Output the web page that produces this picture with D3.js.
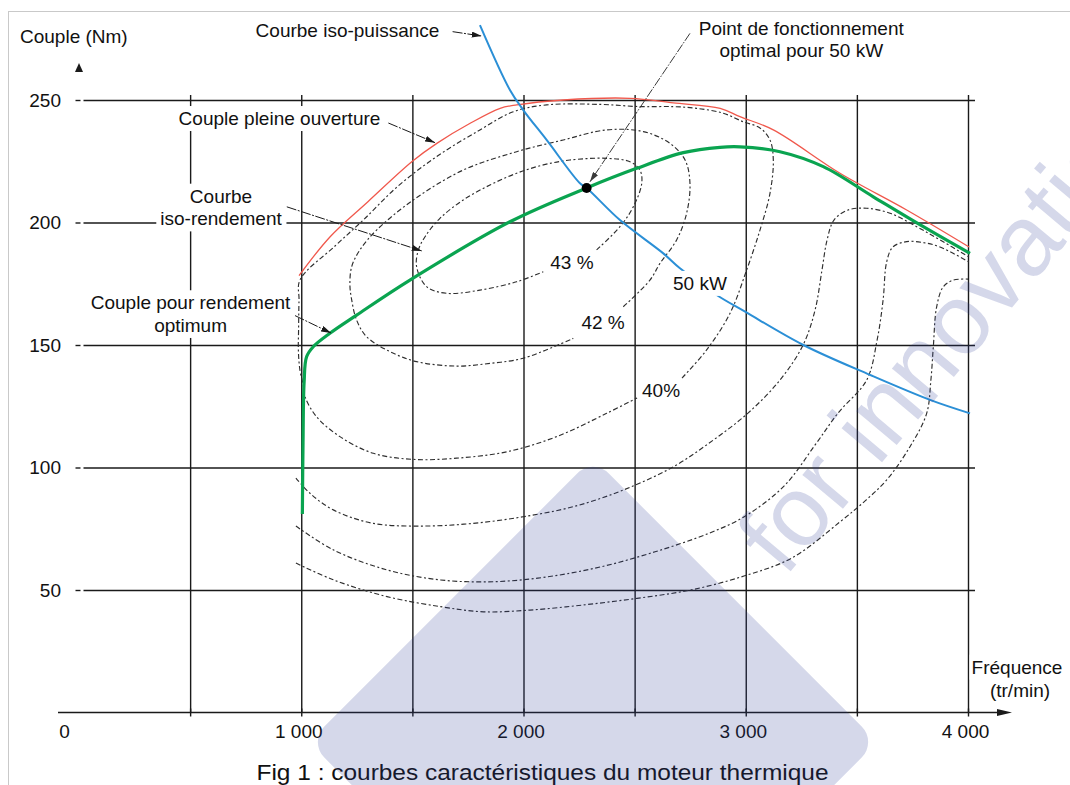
<!DOCTYPE html>
<html>
<head>
<meta charset="utf-8">
<script src="https://cdn.jsdelivr.net/npm/d3@7"></script>
<style>
  html, body { margin: 0; padding: 0; background: #fff; }
  svg { display: block; font-family: "Liberation Sans", Arial, Helvetica, sans-serif; }
</style>
</head>
<body>
<svg id="chart" width="1070" height="785"></svg>
<script>
// ---- axes ---------------------------------------------------------------
const xGridTicks = [500, 1000, 1500, 2000, 2500, 3000, 3500, 4000];
const xLabelTicks = [0, 1000, 2000, 3000, 4000];
const xLabelText = ["0", "1 000", "2 000", "3 000", "4 000"];
const yTicks = [50, 100, 150, 200, 250];
const yLabelText = ["50", "100", "150", "200", "250"];

// ---- characteristic curves: [speed (tr/min), torque (Nm)] ---------------
const fullLoadTorque = [[990,178.3],[1130,194.2],[1300,208.5],[1500,225],[1610,232.3],[1760,240.5],[1895,246.6],[1970,248],[2180,250],[2480,250.7],[2674,248.8],[2885,246.6],[2974,243.2],[3124,237.8],[3424,220.1],[3724,205.1],[4005,190]];
const optimumTorque = [[1005,81],[1008,110],[1013,135],[1024,145.2],[1054,149.3],[1129,154.8],[1249,162.2],[1489,176.5],[1939,200.3],[2284,214.1],[2509,222.1],[2719,228.5],[2884,230.7],[2974,230.9],[3154,228.9],[3349,222.8],[3574,210.5],[3799,198.3],[4009,187.4]];
const isoPower50kW = [[1804,280.6],[1939,254.1],[1999,245.9],[2104,233.7],[2254,216],[2284,214.1],[2434,201],[2629,187.4],[2704,181.3],[2869,170.4],[2997,163.6],[3259,150],[3559,137.8],[3829,127.6],[4009,122.1]];
const optimumPoint = [2284, 214.1];

// ---- iso-efficiency contours --------------------------------------------
const iso43 = [[2329,188.8],[2434,198.3],[2494,206.4],[2532,216.0],[2524,221.4],[2479,224.8],[2374,226.2],[2209,225.5],[2089,223.5],[1969,220.1],[1849,215.3],[1729,209.2],[1624,201.7],[1557,194.2],[1527,188.8],[1519,182.0],[1564,173.8],[1654,171.1],[1804,172.4],[1969,175.8],[2089,179.9]];
const iso42 = [[2449,165.6],[2569,176.5],[2614,183.3],[2689,192.9],[2734,203.8],[2749,216.0],[2727,225.5],[2659,232.3],[2539,237.1],[2374,237.8],[2179,233.7],[1969,228.9],[1729,221.4],[1504,209.2],[1339,196.9],[1264,188.8],[1227,182.0],[1219,174.5],[1227,168.4],[1249,160.2],[1294,153.4],[1399,147.3],[1519,143.2],[1699,141.4],[1849,142.5],[1999,144.6],[2224,152.7]];
const iso40 = [[2713,136.5],[2824,148.0],[2929,162.9],[3004,180.6],[3064,196.9],[3109,211.9],[3124,225.5],[3109,233.7],[3064,238.6],[2989,241.1],[2899,244.6],[2779,246.6],[2674,247.3],[2524,247.3],[2344,248.2],[2104,248.0],[1954,245.2],[1804,237.8],[1609,226.9],[1431,214.5],[1279,201.0],[1152,190.4],[994,176.5],[990,168.4],[988,156.1],[987,148.0],[994,139.8],[1009,133.7],[1017,128.9],[1069,120.7],[1174,112.6],[1324,105.8],[1504,103.3],[1699,103.8],[1924,106.4],[2149,112.6],[2374,122.1],[2511,128.4]];
const isoOuter1 = [[976,95.7],[1039,89.5],[1144,82.7],[1324,77.2],[1549,76.1],[1774,77.2],[1999,79.9],[2224,84.0],[2449,90.8],[2674,100.3],[2854,111.2],[3010,122.2],[3154,135.7],[3258,150.0],[3312,164.3],[3343,180.6],[3366,192.9],[3397,201.0],[3460,205.1],[3544,205.8],[3649,203.8],[3769,198.3],[3874,192.9],[4004,185.9]];
const isoOuter2 = [[976,76.1],[1146,66.3],[1386,58.2],[1627,54.1],[1869,53.4],[2110,55.4],[2350,59.5],[2592,65.6],[2833,73.1],[2993,79.9],[3172,92.4],[3312,109.2],[3415,122.2],[3544,135.7],[3591,152.0],[3618,168.4],[3634,183.9],[3662,190.0],[3724,192.2],[3799,191.8],[3874,190.0],[4004,183.9]];
const isoOuter3 = [[976,61.0],[1146,54.1],[1386,47.3],[1627,43.2],[1820,41.1],[2029,41.8],[2270,43.9],[2511,46.6],[2752,50.0],[2992,55.7],[3208,63.1],[3424,77.8],[3541,86.7],[3634,94.9],[3739,108.5],[3814,122.1],[3833,135.7],[3844,149.3],[3859,165.6],[3889,173.8],[3934,176.5],[4000,176.9]];

const contourLabels = [
  { text: "43 %", at: [2218, 183.9] },
  { text: "42 %", at: [2358, 159.4] },
  { text: "40%",  at: [2619, 131.6] },
  { text: "50 kW", at: [2794, 175.2] }
];

// annotation texts with their leader lines, placed in chart units
const annotations = [
  { lines: ["Courbe iso-puissance"], at: [1208, 278.6], from: [1681, 277.9], to: [1812, 276.1] },
  { lines: ["Point de fonctionnement", "optimal pour 50 kW"], at: [3250, 279.4], from: [2749, 277.2], to: [2299, 216.6], grey: true },
  { lines: ["Couple pleine ouverture"], at: [902, 242.5], from: [1392, 240.6], to: [1602, 232.6] },
  { lines: ["Courbe", "iso-rendement"], at: [639, 210.8], from: [935, 206.4], to: [1542, 188.4] },
  { lines: ["Couple pour rendement", "optimum"], at: [502, 167.3], from: [972, 162.0], to: [1134, 154.9] }
];

// ---- drawing ------------------------------------------------------------
const svg = d3.select("#chart");
const FONT = 19;
const LINE_GAP = 22.7;

const x = d3.scaleLinear().domain([0, 4000]).range([79, 968]);
const y = d3.scaleLinear().domain([0, 250]).range([712.5, 100]);
const x0 = x(0), y0 = y(0);

svg.append("rect").attr("width", 1070).attr("height", 785).attr("fill", "#fff");
// frame of the figure
svg.append("rect").attr("x", 8.5).attr("y", 11.5).attr("width", 1100).attr("height", 1000)
  .attr("fill", "none").attr("stroke", "#c9c9c9").attr("stroke-width", 1);

const defs = svg.append("defs");
[["arrowDark", "#1a1a1a"], ["arrowGrey", "#3a3a3a"]].forEach(([id, c]) => {
  defs.append("marker").attr("id", id)
    .attr("viewBox", "0 0 10 6").attr("refX", 10).attr("refY", 3)
    .attr("markerWidth", 10).attr("markerHeight", 6)
    .attr("markerUnits", "userSpaceOnUse").attr("orient", "auto")
    .append("path").attr("d", "M0,0 L10,3 L0,6 Z").attr("fill", c);
});

// vertical grid lines, from the x axis up to just above 250 Nm
const gridTop = y(250) - 5;
svg.append("g").attr("transform", `translate(0,${y0})`)
  .call(d3.axisBottom(x).tickValues(xGridTicks).tickSize(-(y0 - gridTop)).tickFormat(""))
  .call(g => g.select(".domain").remove())
  .call(g => g.selectAll("line").attr("stroke", "#1a1a1a").attr("stroke-width", 1.4));
// short ticks through the x axis
svg.append("g").attr("transform", `translate(0,${y0 + 4})`)
  .call(d3.axisBottom(x).tickValues(xGridTicks).tickSize(-8).tickFormat(""))
  .call(g => g.select(".domain").remove())
  .call(g => g.selectAll("line").attr("stroke", "#1a1a1a").attr("stroke-width", 1.4));

// horizontal grid lines with their small tick on the left
const hStart = x0 + 4.5, hEnd = x(4000) + 7;
svg.append("g").attr("transform", `translate(${hStart},0)`)
  .call(d3.axisLeft(y).tickValues(yTicks).tickSize(-(hEnd - hStart)).tickFormat(""))
  .call(g => g.select(".domain").remove())
  .call(g => g.selectAll("line").attr("stroke", "#1a1a1a").attr("stroke-width", 1.4));
svg.append("g").attr("transform", `translate(${x0 + 1.5},0)`)
  .call(d3.axisLeft(y).tickValues(yTicks).tickSize(5).tickFormat(""))
  .call(g => g.select(".domain").remove())
  .call(g => g.selectAll("line").attr("stroke", "#1a1a1a").attr("stroke-width", 1.4));

// tick labels
svg.append("g").attr("transform", `translate(${x0},0)`)
  .call(d3.axisLeft(y).tickValues(yTicks).tickSize(0).tickPadding(18)
    .tickFormat((d, i) => yLabelText[i]))
  .call(g => g.select(".domain").remove())
  .call(g => g.selectAll("text").attr("font-size", FONT).attr("fill", "#111")
    .attr("font-family", "Liberation Sans, Arial, sans-serif"));
svg.append("g").attr("transform", `translate(0,${y0})`)
  .call(d3.axisBottom(x).tickValues(xLabelTicks).tickSize(0).tickPadding(12)
    .tickFormat((d, i) => xLabelText[i]))
  .call(g => g.select(".domain").remove())
  .call(g => g.selectAll("text").attr("font-size", FONT).attr("fill", "#111")
    .attr("font-family", "Liberation Sans, Arial, sans-serif")
    .attr("dx", d => d === 0 ? -15 : -3));

// x axis with arrow
svg.append("line").attr("x1", x0 - 21).attr("x2", 998).attr("y1", y0).attr("y2", y0)
  .attr("stroke", "#1a1a1a").attr("stroke-width", 1.5);
svg.append("path").attr("d", `M997,${y0 - 3.6} L1012,${y0} L997,${y0 + 3.6} Z`).attr("fill", "#1a1a1a");
// y axis arrow head
svg.append("path").attr("d", `M${x0},${63} L${x0 + 4},${72} L${x0 - 4},${72} Z`).attr("fill", "#1a1a1a");

// contours
const line = d3.line().x(d => x(d[0])).y(d => y(d[1])).curve(d3.curveCatmullRom.alpha(0.5));
[iso43, iso42, iso40, isoOuter1, isoOuter2, isoOuter3].forEach(c => {
  svg.append("path").attr("d", line(c)).attr("fill", "none")
    .attr("stroke", "#2e2e2e").attr("stroke-width", 1.15)
    .attr("stroke-dasharray", "5,2.5,2,2.5");
});

// characteristic curves
svg.append("path").attr("d", line(fullLoadTorque)).attr("fill", "none")
  .attr("stroke", "#f0584c").attr("stroke-width", 1.3);
svg.append("path").attr("d", line(isoPower50kW)).attr("fill", "none")
  .attr("stroke", "#2b8fd6").attr("stroke-width", 2);
svg.append("path").attr("d", line(optimumTorque)).attr("fill", "none")
  .attr("stroke", "#0aa450").attr("stroke-width", 3.2).attr("stroke-linejoin", "round");
svg.append("circle").attr("cx", x(optimumPoint[0])).attr("cy", y(optimumPoint[1]))
  .attr("r", 5).attr("fill", "#000");

// text with a white knock-out box behind it
function boxedText(g, str, cx, cy, size, anchor, pad) {
  const t = g.append("text").attr("x", cx).attr("y", cy).attr("dy", "0.35em")
    .attr("text-anchor", anchor || "middle").attr("font-size", size)
    .attr("fill", "#111").text(str);
  const bb = t.node().getBBox();
  const p = pad === undefined ? 3 : pad;
  g.insert("rect", () => t.node())
    .attr("x", bb.x - p).attr("y", bb.y - 2).attr("width", bb.width + 2 * p).attr("height", bb.height + 4)
    .attr("fill", "#fff");
  return t;
}

const labels = svg.append("g");
contourLabels.forEach(l => boxedText(labels, l.text, x(l.at[0]), y(l.at[1]), FONT, "middle", 2));

annotations.forEach(a => {
  svg.append("line")
    .attr("x1", x(a.from[0])).attr("y1", y(a.from[1]))
    .attr("x2", x(a.to[0])).attr("y2", y(a.to[1]))
    .attr("stroke", a.grey ? "#3a3a3a" : "#1a1a1a").attr("stroke-width", 1)
    .attr("stroke-dasharray", a.grey ? "9,1.5,1.5,1.5" : "10,1.5,2,1.5")
    .attr("marker-end", a.grey ? "url(#arrowGrey)" : "url(#arrowDark)");
  a.lines.forEach((s, i) => boxedText(labels, s, x(a.at[0]), y(a.at[1]) + i * LINE_GAP, FONT, "middle", 4));
});

// axis titles and caption
svg.append("text").attr("x", 20).attr("y", 36).attr("dy", "0.35em")
  .attr("font-size", FONT).attr("fill", "#111").text("Couple (Nm)");
boxedText(svg, "Fréquence", 1017, 667, FONT, "middle", 2);
boxedText(svg, "(tr/min)", 1020, 690, FONT, "middle", 2);
svg.append("text").attr("x", 542.5).attr("y", 780)
  .attr("text-anchor", "middle").attr("font-size", 22)
  .attr("textLength", 572).attr("lengthAdjust", "spacingAndGlyphs")
  .attr("fill", "#111")
  .text("Fig 1 : courbes caractéristiques du moteur thermique");

// translucent publisher mark laid over the figure
const mark = svg.append("g").attr("fill", "#2b3d96").attr("fill-opacity", 0.2).attr("pointer-events", "none");
mark.append("rect").attr("x", -201).attr("y", -201).attr("width", 402).attr("height", 402)
  .attr("rx", 22).attr("transform", "translate(593,742) rotate(45)");
mark.append("text").attr("x", 0).attr("y", 0).attr("font-size", 100)
  .attr("transform", "translate(785,578) rotate(-50)").text("for innovation");
</script>
</body>
</html>
